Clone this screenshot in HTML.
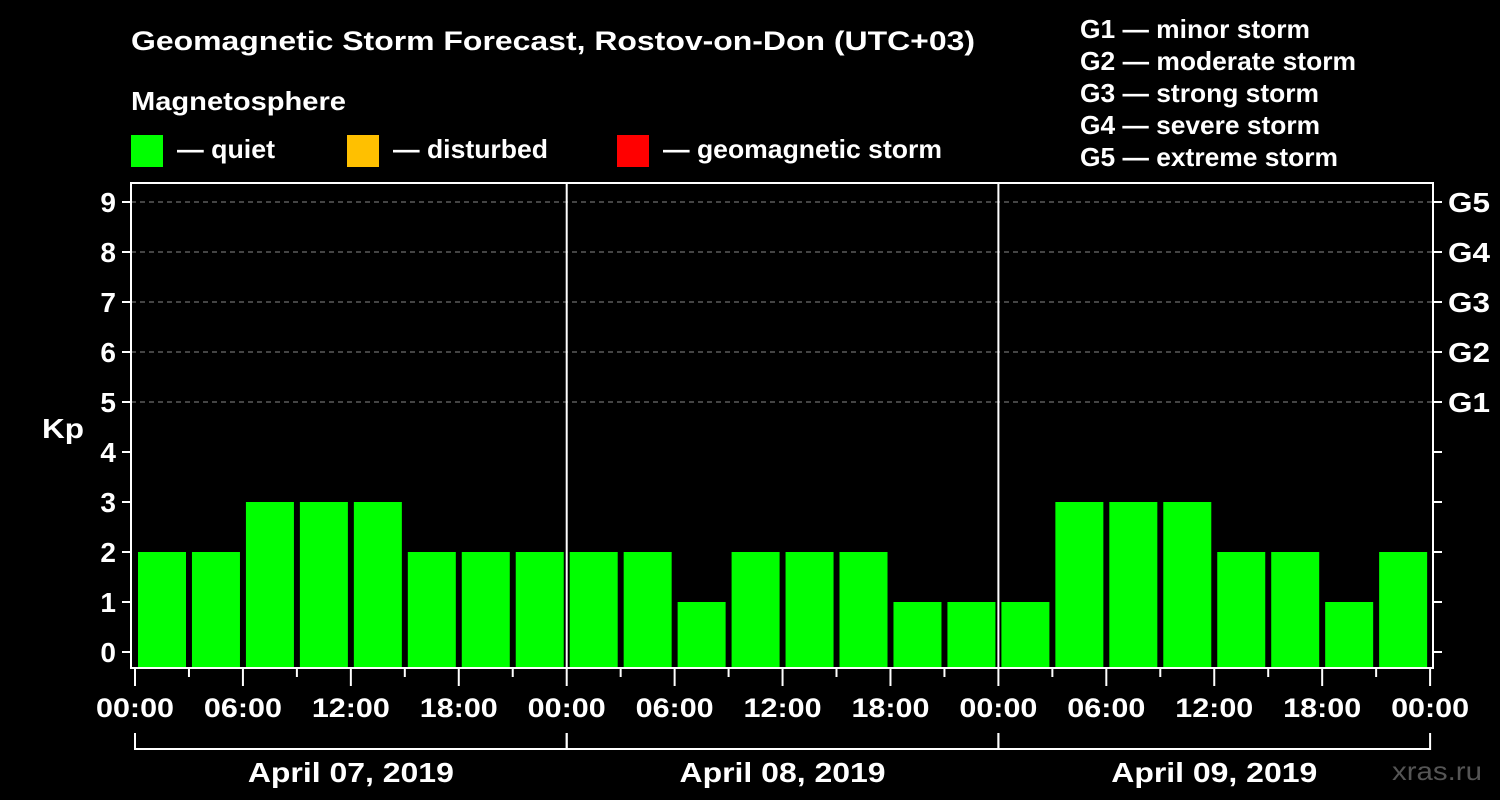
<!DOCTYPE html>
<html><head><meta charset="utf-8"><style>
html,body{margin:0;padding:0;background:#000;width:1500px;height:800px;overflow:hidden}
svg{display:block;font-family:"Liberation Sans",Arial,sans-serif;font-weight:bold}
</style></head><body>
<svg id="chart" width="1500" height="800" xmlns="http://www.w3.org/2000/svg">
<rect width="1500" height="800" fill="#000"/>
<text x="131" y="50" fill="#fff" font-size="27" textLength="844" lengthAdjust="spacingAndGlyphs">Geomagnetic Storm Forecast, Rostov-on-Don (UTC+03)</text>
<text x="131" y="110" fill="#fff" font-size="26" textLength="215" lengthAdjust="spacingAndGlyphs">Magnetosphere</text>
<g><rect x="131" y="135" width="32" height="32" fill="#00ff00"/><text x="177" y="158" fill="#fff" font-size="26" textLength="98" lengthAdjust="spacingAndGlyphs">— quiet</text></g>
<g><rect x="347" y="135" width="32" height="32" fill="#ffc000"/><text x="393" y="158" fill="#fff" font-size="26" textLength="155" lengthAdjust="spacingAndGlyphs">— disturbed</text></g>
<g><rect x="617" y="135" width="32" height="32" fill="#ff0000"/><text x="663" y="158" fill="#fff" font-size="26" textLength="279" lengthAdjust="spacingAndGlyphs">— geomagnetic storm</text></g>
<g fill="#fff" font-size="26">
<text x="1080" y="38" textLength="230" lengthAdjust="spacingAndGlyphs">G1 — minor storm</text>
<text x="1080" y="70" textLength="276" lengthAdjust="spacingAndGlyphs">G2 — moderate storm</text>
<text x="1080" y="102" textLength="239" lengthAdjust="spacingAndGlyphs">G3 — strong storm</text>
<text x="1080" y="134" textLength="240" lengthAdjust="spacingAndGlyphs">G4 — severe storm</text>
<text x="1080" y="166" textLength="258" lengthAdjust="spacingAndGlyphs">G5 — extreme storm</text>
</g>
<text x="42" y="438" fill="#fff" font-size="28" textLength="42" lengthAdjust="spacingAndGlyphs">Kp</text>
<text x="1392" y="780" fill="#555" font-size="26" font-weight="normal" textLength="90" lengthAdjust="spacingAndGlyphs">xras.ru</text>
<g id="grid"></g><g id="bars"></g><g id="axes"></g>
</svg>
<script>
const dates = ["April 07, 2019","April 08, 2019","April 09, 2019"];
const kpValues = [2,2,3,3,3,2,2,2, 2,2,1,2,2,2,1,1, 1,3,3,3,2,2,1,2];
const yTicks = [0,1,2,3,4,5,6,7,8,9];
const gLabels = ["","","","","","G1","G2","G3","G4","G5"];
const hourLabels = ["00:00","06:00","12:00","18:00"];

const NS="http://www.w3.org/2000/svg";
const x0=135, dayW=431.7, plotL=131, plotR=1433, plotT=183, plotB=668;
const xPos = h => x0 + h/24*dayW;
const yPos = v => 652 - v*50;
function mk(tag, attrs, parent){const e=document.createElementNS(NS,tag);for(const k in attrs)e.setAttribute(k,attrs[k]);parent.appendChild(e);return e;}
const grid=document.getElementById('grid'), bars=document.getElementById('bars'), axes=document.getElementById('axes');

yTicks.forEach((v,i)=>{
  if(v>=5){const l=mk('line',{x1:plotL,x2:plotR,y1:yPos(v),y2:yPos(v),stroke:'#888','stroke-dasharray':'5,4','stroke-width':1},grid);
  
  }
  const t=mk('line',{x1:122,x2:plotL,y1:yPos(v),y2:yPos(v),stroke:'#fff','stroke-width':2},axes);
  
  
  const t2=mk('line',{x1:plotR,x2:1442,y1:yPos(v),y2:yPos(v),stroke:'#fff','stroke-width':2},axes);
  
  
  const lb=mk('text',{x:116,y:yPos(v)+10,fill:'#fff','font-size':28,'text-anchor':'end'},axes);lb.textContent=v;
  
  
  if(gLabels[i]){const g=mk('text',{x:1448,y:yPos(v)+10,fill:'#fff','font-size':28,textLength:42,lengthAdjust:'spacingAndGlyphs'},axes);g.textContent=gLabels[i];
  
  }
});

kpValues.forEach((v,i)=>{
  const col = v>=5?'#ff0000':(v>=4?'#ffc000':'#00ff00');
  const b=mk('rect',{x:xPos(i*3)+3,y:yPos(v),width:48,height:plotB-yPos(v),fill:col},bars);
  
  
});

const frame=mk('rect',{x:plotL,y:plotT,width:plotR-plotL,height:plotB-plotT,fill:'none',stroke:'#fff','stroke-width':2},axes);


[1,2].forEach(d=>{const l=mk('line',{x1:xPos(d*24),x2:xPos(d*24),y1:plotT,y2:plotB,stroke:'#fff','stroke-width':2},axes);
  
  });

for(let h=0;h<=72;h+=3){
  const major=h%6===0;
  const t=mk('line',{x1:xPos(h),x2:xPos(h),y1:plotB,y2:major?686:677,stroke:'#fff','stroke-width':2},axes);
  
  
  if(major){const lb=mk('text',{x:xPos(h),y:717,fill:'#fff','font-size':27,'text-anchor':'middle',textLength:78,lengthAdjust:'spacingAndGlyphs'},axes);
    lb.textContent=hourLabels[(h%24)/6];
    
    }
}
dates.forEach((d,i)=>{
  const br=mk('path',{d:`M${xPos(i*24)} 733 V749 H${xPos((i+1)*24)} V733`,fill:'none',stroke:'#fff','stroke-width':2},axes);
  
  
  const t=mk('text',{x:xPos(i*24+12),y:782,fill:'#fff','font-size':28,'text-anchor':'middle',textLength:206,lengthAdjust:'spacingAndGlyphs'},axes);t.textContent=d;
  
  
});
</script>
</body></html>
